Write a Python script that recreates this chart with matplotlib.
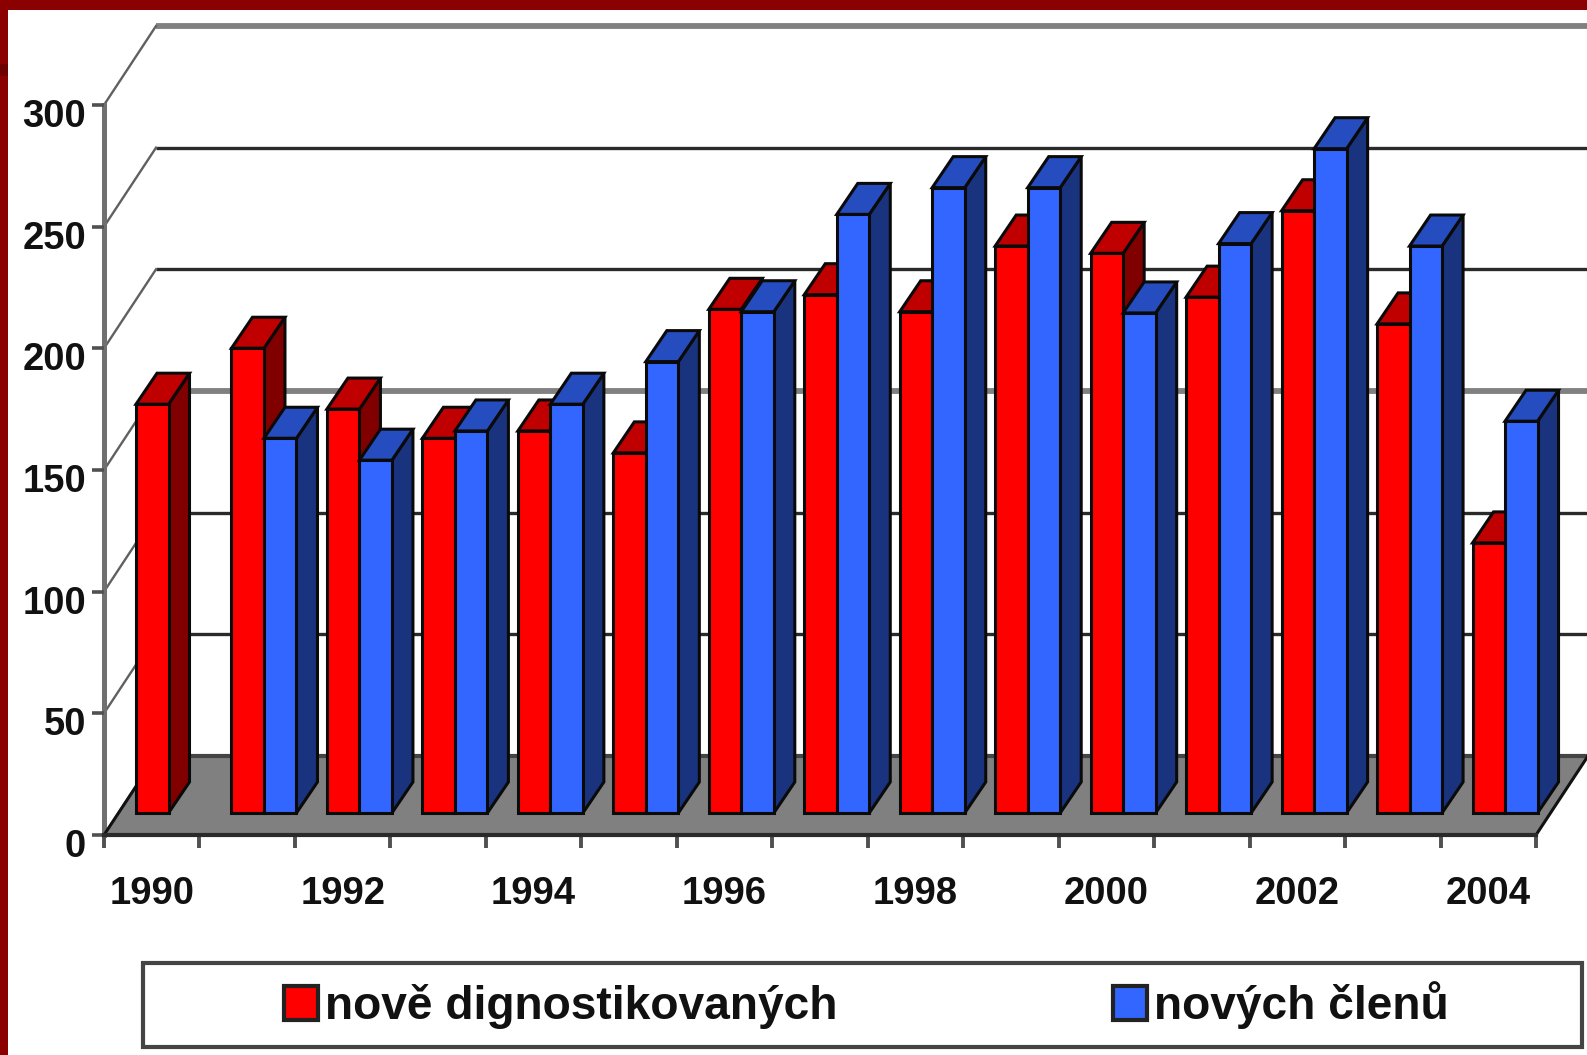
import matplotlib.pyplot as plt
from matplotlib.patches import Polygon, Rectangle
from matplotlib.transforms import ScaledTranslation

years = list(range(1990, 2005))
year_labels = ["1990", "", "1992", "", "1994", "", "1996", "", "1998", "", "2000", "", "2002", "", "2004"]
new_diagnosed = [168, 191, 166, 154, 157, 148, 207, 213, 206, 233, 230, 212, 247.5, 201, 111]
new_members = [None, 154, 145, 157, 168, 185.5, 206, 246, 257, 257, 205.5, 234, 273, 233, 161]
y_values = [0, 50, 100, 150, 200, 250, 300]
names = ["nově dignostikovaných", "nových členů"]

W, H = 1587, 1055
plt.rcParams['font.family'] = ['Liberation Sans', 'DejaVu Sans']

fig = plt.figure(figsize=(W / 100, H / 100), dpi=100, facecolor='white')
ax = fig.add_axes([104 / W, 1 - 835 / H, (1536 - 104) / W, 730 / H])
ax.set_xlim(0, 15)
ax.set_ylim(0, 300)
ax.patch.set_visible(False)

# one pixel in data units
px = 15 / (1536 - 104)
py = 300 / 730

# oblique offsets for the fake 3d
wall_dx = 52 * px
wall_dy = 79 * py
lift = 22 * py
bar_w = 32.5 * px
bar_start = 32 * px
depth_x = 21 * px
depth_y = 31 * py

# back wall lines and the diagonals on the left wall
for v in y_values:
    if v in (150, 300):
        col, lw = '#808080', 4.2
    else:
        col, lw = '#2a2a2a', 2.4
    ax.plot([wall_dx, 15 + wall_dx + 1], [v + wall_dy, v + wall_dy], color=col, lw=lw, clip_on=False, zorder=1, solid_capstyle='butt')
    ax.plot([0, wall_dx], [v, v + wall_dy], color='#606060', lw=1.7, clip_on=False, zorder=1)

# floor
floor = Polygon([(0, 0), (15, 0), (15 + wall_dx, wall_dy), (wall_dx, wall_dy)], closed=True, facecolor='#808080', edgecolor='none', clip_on=False, zorder=2)
ax.add_patch(floor)
ax.plot([wall_dx, 15 + wall_dx], [wall_dy, wall_dy], color='#444444', lw=3, clip_on=False, zorder=2.1, solid_capstyle='butt')
ax.plot([0, wall_dx], [0, wall_dy], color='#111111', lw=2.2, clip_on=False, zorder=2.1)
ax.plot([15, 15 + wall_dx], [0, wall_dy], color='#111111', lw=2.2, clip_on=False, zorder=2.1)


def draw_bar(x, val, front, top, side, z):
    y0 = lift
    y1 = lift + val
    # side and top first, then the front with ax.bar
    ax.add_patch(Polygon([(x + bar_w, y0), (x + bar_w + depth_x, y0 + depth_y), (x + bar_w + depth_x, y1 + depth_y), (x + bar_w, y1)],
                         closed=True, facecolor=side, edgecolor='#0a0a0a', lw=2.2, clip_on=False, zorder=z))
    ax.add_patch(Polygon([(x, y1), (x + depth_x, y1 + depth_y), (x + bar_w + depth_x, y1 + depth_y), (x + bar_w, y1)],
                         closed=True, facecolor=top, edgecolor='#0a0a0a', lw=2.2, clip_on=False, zorder=z))
    return ax.bar(x, val, width=bar_w, bottom=lift, align='edge', color=front, edgecolor='#0a0a0a', lw=2.2, clip_on=False, zorder=z + 0.1)


z = 3
for i in range(len(years)):
    x = i + bar_start
    red = draw_bar(x, new_diagnosed[i], '#ff0000', '#c00000', '#800000', z)
    z += 1
    if new_members[i] is not None:
        blue = draw_bar(x + bar_w, new_members[i], '#3366ff', '#264dbf', '#1a337f', z)
        z += 1

# axes
for s in ('top', 'right'):
    ax.spines[s].set_visible(False)
ax.spines['left'].set_color('#707070')
ax.spines['left'].set_linewidth(3.6)
ax.spines['left'].set_zorder(1.5)
ax.spines['bottom'].set_color('#2a2a2a')
ax.spines['bottom'].set_linewidth(3)
ax.spines['bottom'].set_zorder(2.5)

ax.set_yticks(y_values)
ax.set_yticklabels([str(v) for v in y_values], fontweight='bold')
ax.tick_params(axis='y', length=9, width=2.6, color='#505050', pad=4, labelsize=27.5, labelcolor='#111111')
for lab in ax.get_yticklabels():
    lab.set_transform(lab.get_transform() + ScaledTranslation(0, -8 / 100, fig.dpi_scale_trans))

ax.set_xticks(range(16))
ax.set_xticklabels([])
ax.set_xticks([i + 0.5 for i in range(15)], minor=True)
ax.set_xticklabels(year_labels, minor=True, fontweight='bold')
ax.tick_params(axis='x', which='major', length=9.5, width=2.8, color='#505050')
ax.tick_params(axis='x', which='minor', length=0, pad=29.5, labelsize=27.5, labelcolor='#111111')

# legend box
fig.add_artist(Rectangle((143 / W, 1 - 1047 / H), (1582 - 143) / W, (1047 - 963) / H, transform=fig.transFigure,
                         facecolor='white', edgecolor='#444444', lw=3))
leg = fig.legend([Rectangle((0, 0), 1, 1, facecolor='#ff0000', edgecolor='#222222', lw=3),
                  Rectangle((0, 0), 1, 1, facecolor='#3366ff', edgecolor='#222222', lw=3)],
                 names, ncols=2, frameon=False, loc='center left',
                 prop={'size': 33.2, 'weight': 'bold'},
                 bbox_to_anchor=(284 / W, 1 - 1005 / H), borderpad=0, borderaxespad=0,
                 handlelength=0.74, handleheight=0.74, handletextpad=0.15, columnspacing=5.98)
for t in leg.get_texts():
    t.set_color('#111111')

# dark red frame
fig.add_artist(Rectangle((0, 1 - 10 / H), 1, 10 / H, transform=fig.transFigure, facecolor='#8b0000', edgecolor='none', zorder=10))
fig.add_artist(Rectangle((0, 0), 8 / W, 1, transform=fig.transFigure, facecolor='#8b0000', edgecolor='none', zorder=10))
fig.add_artist(Rectangle((0, 1 - 76 / H), 8 / W, 12 / H, transform=fig.transFigure, facecolor='#6e0000', edgecolor='none', zorder=11))

plt.savefig('out.png', dpi=100)
